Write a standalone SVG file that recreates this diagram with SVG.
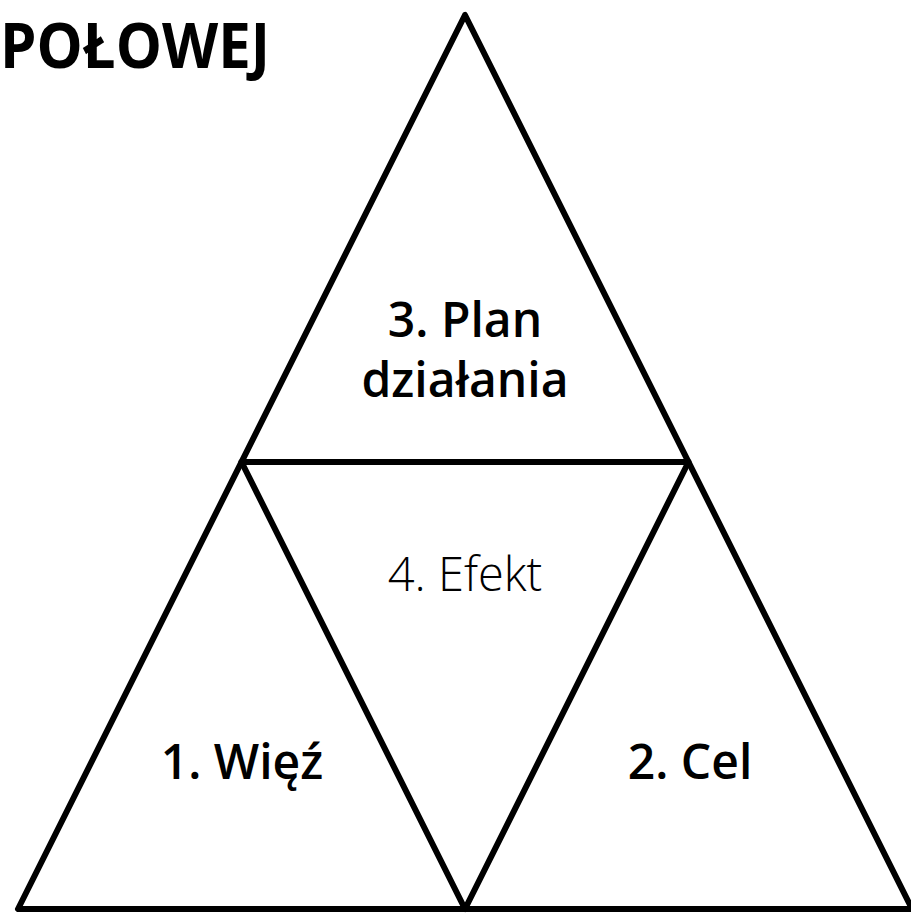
<svg xmlns="http://www.w3.org/2000/svg" width="911" height="915" viewBox="0 0 911 915">
<style>
.ln{fill:none;stroke:#000;stroke-width:6;stroke-linejoin:round;stroke-linecap:round}
.lb{font-family:"Open Sans","Liberation Sans",sans-serif;font-size:48px;font-weight:600;text-anchor:middle;fill:#000}
.lt{font-family:"Open Sans","Liberation Sans",sans-serif;font-size:47px;font-weight:300;text-anchor:middle;fill:#000}
.tt{font-family:"Open Sans","Liberation Sans",sans-serif;font-size:63px;font-weight:700;fill:#000}
</style>
<rect width="911" height="915" fill="#fff"/>
<text class="tt" x="0" y="68" textLength="270" lengthAdjust="spacingAndGlyphs">POŁOWEJ</text>
<g id="connectors">
<path class="ln" d="M465,15 L18,909 L912,909 Z"/>
<path class="ln" d="M241.5,462 L688.5,462 L465,909 Z"/>
</g>
<g id="n3"><text class="lb" x="465" y="337">3. Plan</text><text class="lb" x="465" y="397">działania</text></g>
<g id="n4"><text class="lt" x="465" y="591">4. Efekt</text></g>
<g id="n1"><text class="lb" x="242" y="779">1. Więź</text></g>
<g id="n2"><text class="lb" x="690" y="779">2. Cel</text></g>
</svg>
